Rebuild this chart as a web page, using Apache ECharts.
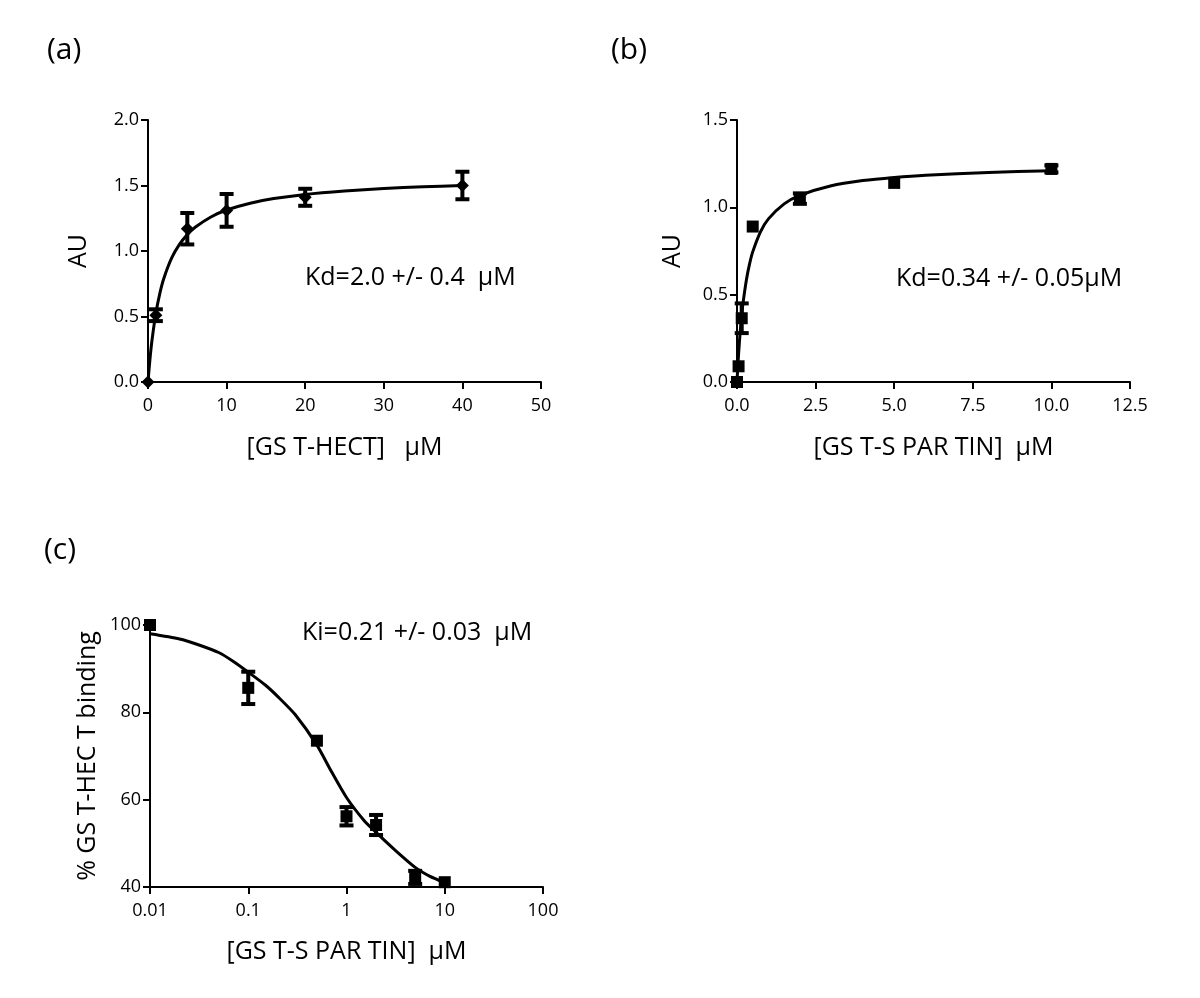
<!DOCTYPE html>
<html>
<head>
<meta charset="utf-8">
<script src="https://cdn.jsdelivr.net/npm/echarts@6/dist/echarts.min.js"></script>
<style>html,body{margin:0;padding:0;background:#fff}#c{width:1200px;height:998px}</style>
</head>
<body>
<div id="c"></div>
<script>
// ---- Panel (a) ----
const aX = [0, 1, 5, 10, 20, 40];
const aY = [0, 0.51, 1.17, 1.31, 1.41, 1.50];
const aErr = [0, 0.045, 0.12, 0.125, 0.065, 0.105];
const aCurveX = [0, 0.25, 0.5, 1, 1.5, 2, 3, 4, 5, 6, 8, 10, 13, 16, 20, 25, 30, 35, 40];
const aCurveY = [0, 0.175, 0.315, 0.525, 0.675, 0.788, 0.945, 1.05, 1.125, 1.181, 1.26, 1.313, 1.365, 1.40, 1.432, 1.458, 1.477, 1.49, 1.50];
const aXTicks = [0, 10, 20, 30, 40, 50];
const aYTicks = [0.0, 0.5, 1.0, 1.5, 2.0];

// ---- Panel (b) ----
const bX = [0, 0.05, 0.15, 0.5, 2, 5, 10];
const bY = [0, 0.09, 0.365, 0.89, 1.05, 1.14, 1.22];
const bErr = [0, 0, 0.085, 0, 0.03, 0, 0.02];
const bCurveX = [0, 0.02, 0.05, 0.1, 0.15, 0.2, 0.3, 0.4, 0.5, 0.75, 1, 1.5, 2, 3, 4, 5, 6, 8, 10];
const bCurveY = [0, 0.07, 0.16, 0.284, 0.383, 0.463, 0.586, 0.676, 0.745, 0.861, 0.934, 1.02, 1.069, 1.124, 1.153, 1.171, 1.184, 1.20, 1.21];
const bXTicks = [0, 2.5, 5, 7.5, 10, 12.5];
const bYTicks = [0.0, 0.5, 1.0, 1.5];

// ---- Panel (c) ----
const cX = [0.01, 0.1, 0.5, 1, 2, 5, 10];
const cY = [100, 85.6, 73.5, 56.2, 54.2, 42.2, 41.1];
const cErr = [0, 3.7, 0, 2.1, 2.3, 1.5, 0];
const cCurveX = [0.01, 0.02, 0.03, 0.05, 0.07, 0.1, 0.15, 0.2, 0.3, 0.5, 0.7, 1, 1.5, 2, 3, 5, 7, 10];
const cCurveY = [98.0, 96.8, 95.6, 93.7, 91.7, 89.2, 86.2, 83.6, 79.5, 72.5, 66.5, 60.5, 55.3, 52.5, 48.8, 44.5, 42.5, 41.0];
const cXTicks = [0.01, 0.1, 1, 10, 100];
const cYTicks = [40, 60, 80, 100];

const FONT = 'Open Sans';
const zip3 = (x, y, e) => x.map((v, i) => [v, y[i], e[i]]);
const zip2 = (x, y) => x.map((v, i) => [v, y[i]]);

function axisCommon() {
  return {
    axisLine: { show: true, onZero: false, lineStyle: { color: '#000', width: 2 } },
    axisTick: { show: true, inside: false, length: 7, lineStyle: { color: '#000', width: 2 } },
    splitLine: { show: false },
    axisLabel: { color: '#000', fontSize: 18, fontFamily: FONT, margin: 9 },
    nameTextStyle: { color: '#000', fontSize: 25, fontFamily: FONT },
    nameLocation: 'middle'
  };
}

function errRender(params, api) {
  const x = api.value(0), y = api.value(1), e = api.value(2);
  if (!e) return null;
  const t = api.coord([x, y + e]);
  const b = api.coord([x, y - e]);
  const w = 7;
  const st = { stroke: '#000', lineWidth: 4 };
  return {
    type: 'group',
    children: [
      { type: 'line', shape: { x1: t[0], y1: t[1], x2: b[0], y2: b[1] }, style: st },
      { type: 'line', shape: { x1: t[0] - w, y1: t[1], x2: t[0] + w, y2: t[1] }, style: st },
      { type: 'line', shape: { x1: b[0] - w, y1: b[1], x2: b[0] + w, y2: b[1] }, style: st }
    ]
  };
}

const fmt1 = v => v.toFixed(1);
const xLabelMargin = 15;
const curveStyle = { color: '#000', width: 3 };

const option = {
  animation: false,
  backgroundColor: '#fff',
  grid: [
    { left: 148, top: 120, width: 393, height: 262 },
    { left: 737, top: 120, width: 393, height: 262 },
    { left: 150, top: 625, width: 393, height: 262 }
  ],
  xAxis: [
    Object.assign(axisCommon(), { gridIndex: 0, type: 'value', min: aXTicks[0], max: aXTicks[aXTicks.length - 1], interval: 10,
      name: '[GS T-HECT]   µM', nameGap: 53 }),
    Object.assign(axisCommon(), { gridIndex: 1, type: 'value', min: bXTicks[0], max: bXTicks[bXTicks.length - 1], interval: 2.5,
      name: '[GS T-S PAR TIN]  µM', nameGap: 53 }),
    Object.assign(axisCommon(), { gridIndex: 2, type: 'log', logBase: 10, min: cXTicks[0], max: cXTicks[cXTicks.length - 1],
      name: '[GS T-S PAR TIN]  µM', nameGap: 52 })
  ],
  yAxis: [
    Object.assign(axisCommon(), { gridIndex: 0, type: 'value', min: aYTicks[0], max: aYTicks[aYTicks.length - 1], interval: 0.5,
      name: 'AU', nameGap: 57 }),
    Object.assign(axisCommon(), { gridIndex: 1, type: 'value', min: bYTicks[0], max: bYTicks[bYTicks.length - 1], interval: 0.5,
      name: 'AU', nameGap: 52 }),
    Object.assign(axisCommon(), { gridIndex: 2, type: 'value', min: cYTicks[0], max: cYTicks[cYTicks.length - 1], interval: 20,
      name: '% GS T-HEC T binding', nameGap: 50 })
  ],
  series: [
    { type: 'line', xAxisIndex: 0, yAxisIndex: 0, data: zip2(aCurveX, aCurveY), smooth: 0.25, showSymbol: false,
      lineStyle: curveStyle, z: 2 },
    { type: 'custom', xAxisIndex: 0, yAxisIndex: 0, data: zip3(aX, aY, aErr), renderItem: errRender, clip: false, z: 3 },
    { type: 'scatter', xAxisIndex: 0, yAxisIndex: 0, data: zip2(aX, aY), symbol: 'diamond', symbolSize: 13,
      itemStyle: { color: '#000', opacity: 1 }, clip: false, z: 4 },

    { type: 'line', xAxisIndex: 1, yAxisIndex: 1, data: zip2(bCurveX, bCurveY), smooth: 0.25, showSymbol: false,
      lineStyle: curveStyle, z: 2 },
    { type: 'custom', xAxisIndex: 1, yAxisIndex: 1, data: zip3(bX, bY, bErr), renderItem: errRender, clip: false, z: 3 },
    { type: 'scatter', xAxisIndex: 1, yAxisIndex: 1, data: zip2(bX, bY), symbol: 'rect', symbolSize: 12,
      itemStyle: { color: '#000', opacity: 1 }, clip: false, z: 4 },

    { type: 'line', xAxisIndex: 2, yAxisIndex: 2, data: zip2(cCurveX, cCurveY), smooth: 0.25, showSymbol: false,
      lineStyle: curveStyle, z: 2 },
    { type: 'custom', xAxisIndex: 2, yAxisIndex: 2, data: zip3(cX, cY, cErr), renderItem: errRender, clip: false, z: 3 },
    { type: 'scatter', xAxisIndex: 2, yAxisIndex: 2, data: zip2(cX, cY), symbol: 'rect', symbolSize: 12,
      itemStyle: { color: '#000', opacity: 1 }, clip: false, z: 4 }
  ],
  graphic: [
    { type: 'text', left: 47, top: 35, style: { text: '(a)', fontSize: 30, fontFamily: FONT, fill: '#000' } },
    { type: 'text', left: 611, top: 35, style: { text: '(b)', fontSize: 30, fontFamily: FONT, fill: '#000' } },
    { type: 'text', left: 44, top: 535, style: { text: '(c)', fontSize: 30, fontFamily: FONT, fill: '#000' } },
    { type: 'text', left: 305, top: 265, style: { text: 'Kd=2.0 +/- 0.4  µM', fontSize: 25, fontFamily: FONT, fill: '#000' } },
    { type: 'text', left: 896, top: 266, style: { text: 'Kd=0.34 +/- 0.05µM', fontSize: 25, fontFamily: FONT, fill: '#000' } },
    { type: 'text', left: 302, top: 620, style: { text: 'Ki=0.21 +/- 0.03  µM', fontSize: 25, fontFamily: FONT, fill: '#000' } }
  ]
};
option.yAxis[0].axisLabel.formatter = fmt1;
option.yAxis[1].axisLabel.formatter = fmt1;
option.xAxis[1].axisLabel.formatter = fmt1;
option.xAxis[2].axisLabel.formatter = v => String(parseFloat(Number(v).toPrecision(3)));
option.xAxis.forEach(ax => { ax.axisLabel.margin = xLabelMargin; });

const chart = echarts.init(document.getElementById('c'), null, { renderer: 'canvas' });
chart.setOption(option);
</script>
</body>
</html>
